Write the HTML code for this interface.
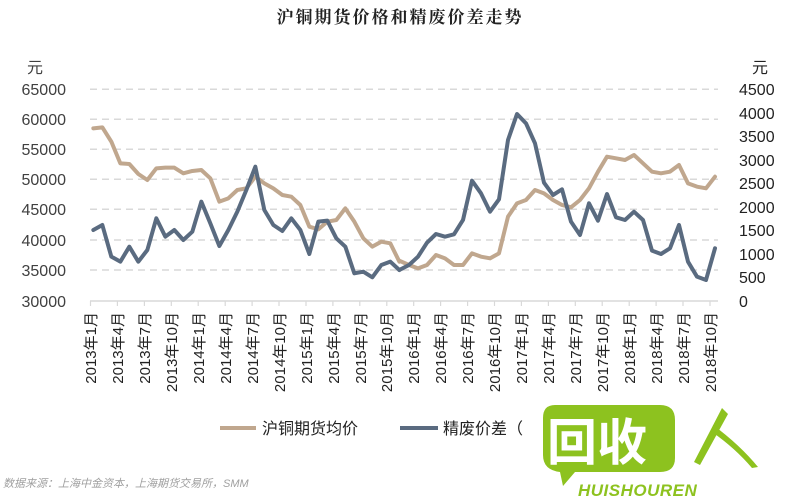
<!DOCTYPE html>
<html><head><meta charset="utf-8"><style>
html,body{margin:0;padding:0;background:#fff;}
body{width:800px;height:500px;overflow:hidden;position:relative;font-family:"Liberation Sans","Noto Sans CJK SC",sans-serif;}
</style></head><body>
<svg width="800" height="500" viewBox="0 0 800 500" xmlns="http://www.w3.org/2000/svg" style="position:absolute;left:0;top:0">
<text x="400" y="23" text-anchor="middle" font-family="'Noto Serif CJK SC',serif" font-weight="bold" font-size="17" fill="#222" letter-spacing="2">沪铜期货价格和精废价差走势</text>
<g stroke="#d9d9d9" stroke-width="1.5" stroke-dasharray="7,5">
<line x1="90" y1="89.3" x2="718" y2="89.3"/><line x1="90" y1="119.3" x2="718" y2="119.3"/>
<line x1="90" y1="149.3" x2="718" y2="149.3"/><line x1="90" y1="179.3" x2="718" y2="179.3"/>
<line x1="90" y1="209.3" x2="718" y2="209.3"/><line x1="90" y1="240" x2="718" y2="240"/>
<line x1="90" y1="270" x2="718" y2="270"/>
</g>
<line x1="90" y1="301" x2="718" y2="301" stroke="#d9d9d9" stroke-width="1.5"/>
<g font-size="16" fill="#404040" text-anchor="end">
<text x="66" y="95">65000</text><text x="66" y="125">60000</text><text x="66" y="155">55000</text>
<text x="66" y="185">50000</text><text x="66" y="215">45000</text><text x="66" y="246">40000</text>
<text x="66" y="276">35000</text><text x="66" y="307">30000</text>
</g>
<text x="27" y="73" font-size="16" fill="#404040">元</text>
<g font-size="16" fill="#222">
<text x="739" y="95">4500</text><text x="739" y="119">4000</text><text x="739" y="142">3500</text>
<text x="739" y="166">3000</text><text x="739" y="189">2500</text><text x="739" y="213">2000</text>
<text x="739" y="236">1500</text><text x="739" y="260">1000</text><text x="739" y="283">500</text>
<text x="739" y="307">0</text>
</g>
<text x="752" y="73" font-size="16" fill="#222">元</text>
<g transform="scale(0.33333)" fill="none" stroke-linejoin="round" stroke-linecap="round" stroke-width="12">
<polyline stroke="#c0a78e" points="280,385 307,382 334,425 361,490 388,492 415,522 442,540 469,505 496,503 523,503 550,520 577,513 604,510 631,535 658,605 685,595 712,570 739,565 766,530 793,550 820,565 847,585 874,590 901,615 928,680 955,688 982,665 1009,660 1036,625 1063,665 1090,715 1117,740 1144,725 1171,730 1198,785"/>
<polyline stroke="#5a6b80" points="280,690 307,675 334,770 361,785 388,740 415,785 442,750 469,655 496,710 523,690 550,720 577,695 604,605 631,670 658,738 685,690 712,635 739,570 766,500 793,630 820,675 847,693 874,655 901,690 928,762 955,665 982,662 1009,715 1036,740 1063,820 1090,815 1117,832 1144,795 1171,785 1198,810"/>
</g>
<g transform="translate(400,0) scale(0.33333)" fill="none" stroke-linejoin="round" stroke-linecap="round" stroke-width="12">
<polyline stroke="#c0a78e" points="-2,782 27,795 54,805 81,795 108,765 135,775 162,795 189,795 216,760 243,770 270,775 297,760 324,650 351,610 378,600 405,570 432,580 459,600 486,615 513,622 540,600 567,565 594,515 621,470 648,475 675,480 702,465 729,490 756,515 783,520 810,515 837,495 864,550 891,560 918,565 945,530"/>
<polyline stroke="#5a6b80" points="-2,810 27,795 54,770 81,728 108,702 135,710 162,703 189,660 216,542 243,580 270,635 297,598 324,420 351,342 378,370 405,430 432,548 459,585 486,568 513,665 540,705 567,610 594,662 621,582 648,652 675,660 702,635 729,660 756,752 783,762 810,745 837,675 864,785 891,830 918,840 945,745"/>
</g>
<line x1="220" y1="428" x2="256" y2="428" stroke="#c0a78e" stroke-width="4"/>
<text x="262" y="434" font-size="16" fill="#222">沪铜期货均价</text>
<line x1="400" y1="428" x2="438" y2="428" stroke="#5a6b80" stroke-width="4"/>
<text x="443" y="434" font-size="16" fill="#222">精废价差（</text>
<text x="3" y="487" font-size="11" font-style="italic" fill="#a0a0a0">数据来源：上海中金资本，上海期货交易所，SMM</text>
<path d="M555,405 H660 Q675,405 675,420 V458 Q675,472 660,472 H575 L563,486 L560,472 Q543,470 543,455 V418 Q543,405 555,405 Z" fill="#8dc21f"/>
<text x="547" y="460" font-size="50" font-weight="bold" fill="#fff" font-family="'Noto Sans CJK SC',sans-serif">回收</text>
<text x="578" y="496" font-size="17" font-weight="bold" font-style="italic" fill="#8dc21f" letter-spacing="0.5">HUISHOUREN</text>
<path d="M722,408 L728,414 L700,465 L694,462 Z M713,425 Q740,445 758,467 L752,468 Q735,448 712,432 Z" fill="#8dc21f"/>
</svg>
<svg width="800" height="500" style="position:absolute;left:0;top:0" xmlns="http://www.w3.org/2000/svg">
<g stroke="#d9d9d9" stroke-width="1.2">
<line x1="90.5" y1="301" x2="90.5" y2="306"/><line x1="117.4" y1="301" x2="117.4" y2="306"/><line x1="144.4" y1="301" x2="144.4" y2="306"/><line x1="171.3" y1="301" x2="171.3" y2="306"/><line x1="198.2" y1="301" x2="198.2" y2="306"/><line x1="225.2" y1="301" x2="225.2" y2="306"/><line x1="252.1" y1="301" x2="252.1" y2="306"/><line x1="279" y1="301" x2="279" y2="306"/><line x1="306" y1="301" x2="306" y2="306"/><line x1="332.9" y1="301" x2="332.9" y2="306"/><line x1="359.8" y1="301" x2="359.8" y2="306"/><line x1="386.8" y1="301" x2="386.8" y2="306"/><line x1="413.7" y1="301" x2="413.7" y2="306"/><line x1="440.6" y1="301" x2="440.6" y2="306"/><line x1="467.6" y1="301" x2="467.6" y2="306"/><line x1="494.5" y1="301" x2="494.5" y2="306"/><line x1="521.4" y1="301" x2="521.4" y2="306"/><line x1="548.4" y1="301" x2="548.4" y2="306"/><line x1="575.3" y1="301" x2="575.3" y2="306"/><line x1="602.2" y1="301" x2="602.2" y2="306"/><line x1="629.2" y1="301" x2="629.2" y2="306"/><line x1="656.1" y1="301" x2="656.1" y2="306"/><line x1="683" y1="301" x2="683" y2="306"/><line x1="710" y1="301" x2="710" y2="306"/>
</g>
<g font-size="15" fill="#222" text-anchor="end">
<text transform="translate(96,312) rotate(-90)">2013年1月</text>
<text transform="translate(123,312) rotate(-90)">2013年4月</text>
<text transform="translate(150,312) rotate(-90)">2013年7月</text>
<text transform="translate(177,312) rotate(-90)">2013年10月</text>
<text transform="translate(204,312) rotate(-90)">2014年1月</text>
<text transform="translate(231,312) rotate(-90)">2014年4月</text>
<text transform="translate(258,312) rotate(-90)">2014年7月</text>
<text transform="translate(285,312) rotate(-90)">2014年10月</text>
<text transform="translate(312,312) rotate(-90)">2015年1月</text>
<text transform="translate(339,312) rotate(-90)">2015年4月</text>
<text transform="translate(366,312) rotate(-90)">2015年7月</text>
<text transform="translate(392,312) rotate(-90)">2015年10月</text>
<text transform="translate(419,312) rotate(-90)">2016年1月</text>
<text transform="translate(446,312) rotate(-90)">2016年4月</text>
<text transform="translate(473,312) rotate(-90)">2016年7月</text>
<text transform="translate(500,312) rotate(-90)">2016年10月</text>
<text transform="translate(527,312) rotate(-90)">2017年1月</text>
<text transform="translate(554,312) rotate(-90)">2017年4月</text>
<text transform="translate(581,312) rotate(-90)">2017年7月</text>
<text transform="translate(608,312) rotate(-90)">2017年10月</text>
<text transform="translate(635,312) rotate(-90)">2018年1月</text>
<text transform="translate(662,312) rotate(-90)">2018年4月</text>
<text transform="translate(689,312) rotate(-90)">2018年7月</text>
<text transform="translate(716,312) rotate(-90)">2018年10月</text>
</g>
</svg>
</body></html>
